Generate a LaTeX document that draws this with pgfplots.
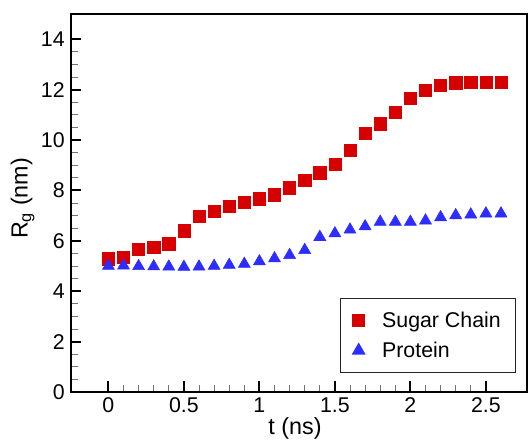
\documentclass[border=0pt]{standalone}
\usepackage{fontspec}
\setmainfont{Liberation Sans}
\usepackage{pgfplots}
\pgfplotsset{compat=1.18}
\definecolor{myred}{RGB}{214,0,0}
\definecolor{myblue}{RGB}{45,45,255}
\begin{document}
\begin{tikzpicture}
\begin{axis}[
  name=ax,
  scale only axis,
  width=342pt, height=283.5pt,
  xmin=-0.25, xmax=2.77,
  ymin=0, ymax=15,
  xtick={0,0.5,1,1.5,2,2.5},
  xticklabels={0,0.5,1,1.5,2,2.5},
  ytick={0,2,4,6,8,10,12,14},
  minor x tick num=4,
  minor y tick num=3,
  tick pos=left,
  tick align=inside,
  major tick length=8pt,
  minor tick length=5.2pt,
  every tick/.style={black, line width=1.4pt},
  every minor tick/.style={black!55, line width=0.7pt},
  axis line style={line width=1.5pt},
  /pgf/number format/assume math mode=true,
  tick label style={font=\fontsize{16}{19}\selectfont},
  xticklabel style={yshift=-1pt},
  yticklabel style={xshift=-1pt},
  label style={font=\fontsize{17.5}{21}\selectfont},
  xlabel={t (ns)},
  ylabel={R\textsubscript{g} (nm)},
  xlabel style={at={(axis description cs:0.492,0)}, anchor=center, yshift=-27pt},
  ylabel style={at={(axis description cs:-0.1053,0.512)}, anchor=center},
  legend style={at={(0.9765,0.05)}, anchor=south east, draw=black!85, line width=0.8pt,
    font=\fontsize{16}{19}\selectfont, row sep=5.5pt, inner xsep=9pt, inner ysep=8pt,
    /tikz/every odd column/.append style={column sep=11pt}},
  legend cell align=left,
]
\addplot[only marks, mark=square*, mark size=4.6pt, color=myred] coordinates {
(0,5.29) (0.1,5.34) (0.2,5.67) (0.3,5.74) (0.4,5.88) (0.5,6.40) (0.6,6.97)
(0.7,7.18) (0.8,7.36) (0.9,7.53) (1.0,7.67) (1.1,7.83) (1.2,8.10) (1.3,8.41)
(1.4,8.70) (1.5,9.04) (1.6,9.58) (1.7,10.26) (1.8,10.64) (1.9,11.11) (2.0,11.65)
(2.1,11.97) (2.2,12.18) (2.3,12.27) (2.4,12.30) (2.5,12.29) (2.6,12.30)
};
\addlegendentry{Sugar Chain}
\addplot[only marks, mark=triangle*, mark size=5.2pt, color=myblue] coordinates {
(0,5.00) (0.1,5.01) (0.2,4.99) (0.3,4.98) (0.4,4.97) (0.5,4.96) (0.6,4.97)
(0.7,5.00) (0.8,5.04) (0.9,5.08) (1.0,5.18) (1.1,5.30) (1.2,5.43) (1.3,5.63)
(1.4,6.15) (1.5,6.29) (1.6,6.44) (1.7,6.57) (1.8,6.75) (1.9,6.75) (2.0,6.75)
(2.1,6.80) (2.2,6.93) (2.3,7.01) (2.4,7.04) (2.5,7.08) (2.6,7.08)
};
\addlegendentry{Protein}
\end{axis}
\pgfresetboundingbox
\path ([xshift=-53pt, yshift=-38.25pt]ax.south west) rectangle ([xshift=1pt, yshift=10.5pt]ax.north east);
\end{tikzpicture}
\end{document}
